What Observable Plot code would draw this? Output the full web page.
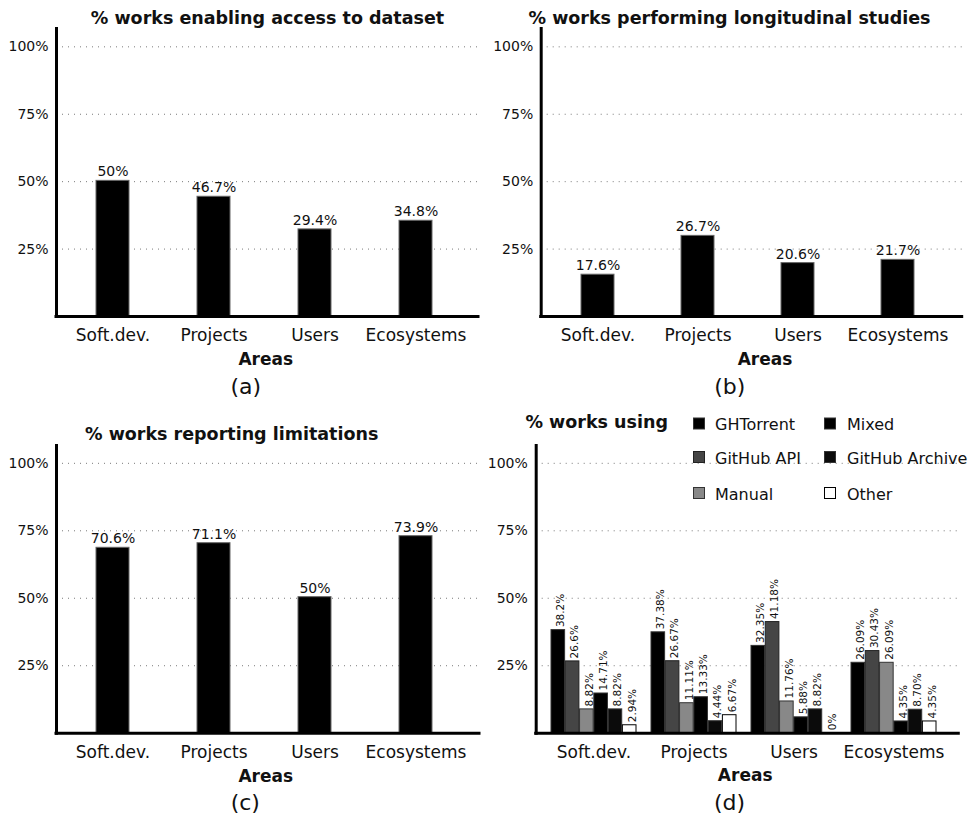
<!DOCTYPE html>
<html><head><meta charset="utf-8">
<script src="https://cdn.jsdelivr.net/npm/d3@7"></script>
<script src="https://cdn.jsdelivr.net/npm/@observablehq/plot@0.6"></script>
<style>
body{margin:0;background:#fff;}
#root{position:relative;width:973px;height:817px;overflow:hidden;background:#fff;}
#root svg{position:absolute;}
</style></head><body><div id="root"></div>
<script>
// ---------- data ----------
const areas = ["Soft.dev.", "Projects", "Users", "Ecosystems"];
const yTicks = [25, 50, 75, 100];

// (a) % works enabling access to dataset
const accessHeights = [50.3, 44.4, 32.3, 35.5];
const accessLabels = ["50%", "46.7%", "29.4%", "34.8%"];

// (b) % works performing longitudinal studies
const longitudinalHeights = [15.5, 29.9, 19.8, 21.0];
const longitudinalLabels = ["17.6%", "26.7%", "20.6%", "21.7%"];

// (c) % works reporting limitations
const limitationHeights = [68.7, 70.4, 50.4, 73.0];
const limitationLabels = ["70.6%", "71.1%", "50%", "73.9%"];

// (d) % works using
const sources = ["GHTorrent", "GitHub API", "Manual", "Mixed", "GitHub Archive", "Other"];
const ghtorrentValues = [38.2, 37.38, 32.35, 26.09];
const githubApiValues = [26.6, 26.67, 41.18, 30.43];
const manualValues = [8.82, 11.11, 11.76, 26.09];
const mixedValues = [14.71, 13.33, 5.88, 4.35];
const githubArchiveValues = [8.82, 4.44, 8.82, 8.70];
const otherValues = [2.94, 6.67, 0, 4.35];
const ghtorrentLabels = ["38.2%", "37.38%", "32.35%", "26.09%"];
const githubApiLabels = ["26.6%", "26.67%", "41.18%", "30.43%"];
const manualLabels = ["8.82%", "11.11%", "11.76%", "26.09%"];
const mixedLabels = ["14.71%", "13.33%", "5.88%", "4.35%"];
const githubArchiveLabels = ["8.82%", "4.44%", "8.82%", "8.70%"];
const otherLabels = ["2.94%", "6.67%", "0%", "4.35%"];

// ---------- styles ----------
const FONT = "'DejaVu Sans', Verdana, sans-serif";
const sourceFill = ["#000000", "#454545", "#888888", "#000000", "#0b0b0b", "#ffffff"];
const sourceStroke = ["#333333", "#222222", "#333333", "#333333", "#333333", "#000000"];

const root = document.getElementById("root");

function place(svg, left, top) {
  svg.style.left = left + "px";
  svg.style.top = top + "px";
  svg.style.maxWidth = "none";
  root.appendChild(svg);
}

function baseMarks(cfg) {
  return [
    Plot.gridY(yTicks, {stroke: "#7a7a7a", strokeOpacity: 1, strokeDasharray: "1,5"})
  ];
}
function axisMarks(cfg) {
  return [
    Plot.axisY({ticks: yTicks, tickSize: 0, tickPadding: cfg.tp, tickFormat: d => d + "%", fontSize: 14, label: null}),
    Plot.axisX({tickSize: 0, tickPadding: 12.5, fontSize: 17, label: null}),
    Plot.ruleY([0], {strokeWidth: 3, stroke: "#000", strokeLinecap: "square"}),
    Plot.frame({anchor: "left", strokeWidth: 3, stroke: "#000"})
  ];
}

function simplePanel(cfg) {
  const data = areas.map((a, i) => ({area: a, h: cfg.heights[i], label: cfg.labels[i]}));
  const svg = Plot.plot({
    width: cfg.W, height: cfg.H,
    marginLeft: cfg.ml, marginRight: cfg.mr, marginTop: cfg.mt, marginBottom: cfg.mb,
    style: {fontFamily: FONT, background: "transparent", color: "#111", overflow: "visible"},
    x: {type: "band", domain: areas, range: cfg.xr, paddingInner: 0.67, paddingOuter: 0.335},
    y: {domain: [0, cfg.ymax]},
    marks: [
      ...baseMarks(cfg),
      Plot.barY(data, {x: "area", y: "h", fill: "#000", stroke: "#666", strokeWidth: 1}),
      Plot.text(data, {x: "area", y: "h", text: "label", lineAnchor: "bottom", dy: -4.5, fontSize: 14, fill: "#111"}),
      ...axisMarks(cfg)
    ]
  });
  place(svg, cfg.left, cfg.top);
}

// (a)
simplePanel({left: 0, top: 0, W: 486, H: 405, ml: 56, mr: 8, mt: 28, mb: 89, tp: 8,
  xr: [62, 467], ymax: 106.8, heights: accessHeights, labels: accessLabels});
// (b)
simplePanel({left: 490, top: 0, W: 483, H: 405, ml: 50.7, mr: 11.3, mt: 28, mb: 89, tp: 8,
  xr: [55.85, 459.5], ymax: 106.8, heights: longitudinalHeights, labels: longitudinalLabels});
// (c)
simplePanel({left: 0, top: 410, W: 486, H: 407, ml: 56, mr: 7, mt: 35, mb: 84.3, tp: 8,
  xr: [60.85, 467.6], ymax: 106.6, heights: limitationHeights, labels: limitationLabels});

// (d) grouped bars
(function () {
  const values = [ghtorrentValues, githubApiValues, manualValues, mixedValues, githubArchiveValues, otherValues];
  const labels = [ghtorrentLabels, githubApiLabels, manualLabels, mixedLabels, githubArchiveLabels, otherLabels];
  const xr = [52.45, 455.1];
  const pInner = 0.149;
  const step = (xr[1] - xr[0]) / 4;
  const bw = step * (1 - pInner);
  const w = bw / sources.length;
  const marks = [...baseMarks({})];
  sources.forEach((s, si) => {
    const data = areas.map((a, ai) => ({area: a, v: values[si][ai], label: labels[si][ai]}));
    marks.push(Plot.barY(data.filter(d => d.v > 0), {x: "area", y: "v", fill: sourceFill[si], stroke: sourceStroke[si], strokeWidth: 1,
      insetLeft: si * w, insetRight: (sources.length - 1 - si) * w}));
  });
  sources.forEach((s, si) => {
    const data = areas.map((a, ai) => ({area: a, v: values[si][ai], label: labels[si][ai]}));
    marks.push(Plot.text(data, {x: "area", y: "v", text: "label", rotate: -90, textAnchor: "start", lineAnchor: "middle",
      dx: -bw / 2 + (si + 0.5) * w + 2.5, dy: -3, fontSize: 10.5, fill: "#111"}));
  });
  marks.push(...axisMarks({tp: 8.4}));
  const svg = Plot.plot({
    width: 483, height: 407,
    marginLeft: 45.7, marginRight: 14.7, marginTop: 35, marginBottom: 84.3,
    style: {fontFamily: FONT, background: "transparent", color: "#111", overflow: "visible"},
    x: {type: "band", domain: areas, range: xr, paddingInner: pInner, paddingOuter: pInner / 2},
    y: {domain: [0, 106.6]},
    marks
  });
  place(svg, 490, 410);
})();

// ---------- titles, axis titles, captions, legend ----------
const ov = d3.select(root).append("svg")
  .attr("width", 973).attr("height", 817)
  .style("left", "0px").style("top", "0px")
  .style("font-family", FONT);

const titles = [
  {t: "% works enabling access to dataset", x: 267.5, y: 24},
  {t: "% works performing longitudinal studies", x: 729.5, y: 24},
  {t: "% works reporting limitations", x: 231.7, y: 440},
  {t: "% works using", x: 596.7, y: 428.3}
];
ov.selectAll("text.title").data(titles).join("text").attr("class", "title")
  .attr("x", d => d.x).attr("y", d => d.y).attr("text-anchor", "middle")
  .attr("font-weight", "bold").attr("font-size", 17.5).attr("fill", "#111").text(d => d.t);

const axisTitles = [
  {x: 265.8, y: 365}, {x: 765, y: 365}, {x: 265.8, y: 781.7}, {x: 745.2, y: 780.7}
];
ov.selectAll("text.atitle").data(axisTitles).join("text").attr("class", "atitle")
  .attr("x", d => d.x).attr("y", d => d.y).attr("text-anchor", "middle")
  .attr("font-weight", "bold").attr("font-size", 17).attr("fill", "#111").text("Areas");

const captions = [
  {t: "(a)", x: 245.8, y: 394}, {t: "(b)", x: 729.7, y: 393.5},
  {t: "(c)", x: 245.3, y: 809.5}, {t: "(d)", x: 729.5, y: 809.5}
];
ov.selectAll("text.cap").data(captions).join("text").attr("class", "cap")
  .attr("x", d => d.x).attr("y", d => d.y).attr("text-anchor", "middle")
  .attr("font-size", 22).attr("fill", "#111").text(d => d.t);

// legend: two columns of three
const legendCols = [{sx: 693.5, tx: 715}, {sx: 824.5, tx: 847}];
const legendRows = [430, 463.5, 499.5];
const lg = ov.append("g");
sources.forEach((s, i) => {
  const col = legendCols[Math.floor(i / 3)];
  const y = legendRows[i % 3];
  lg.append("rect").attr("x", col.sx).attr("y", y - 12).attr("width", 11).attr("height", 11)
    .attr("fill", sourceFill[i]).attr("stroke", sourceStroke[i]).attr("stroke-width", 1);
  lg.append("text").attr("x", col.tx).attr("y", y).attr("font-size", 16).attr("fill", "#111").text(s);
});
</script></body></html>
